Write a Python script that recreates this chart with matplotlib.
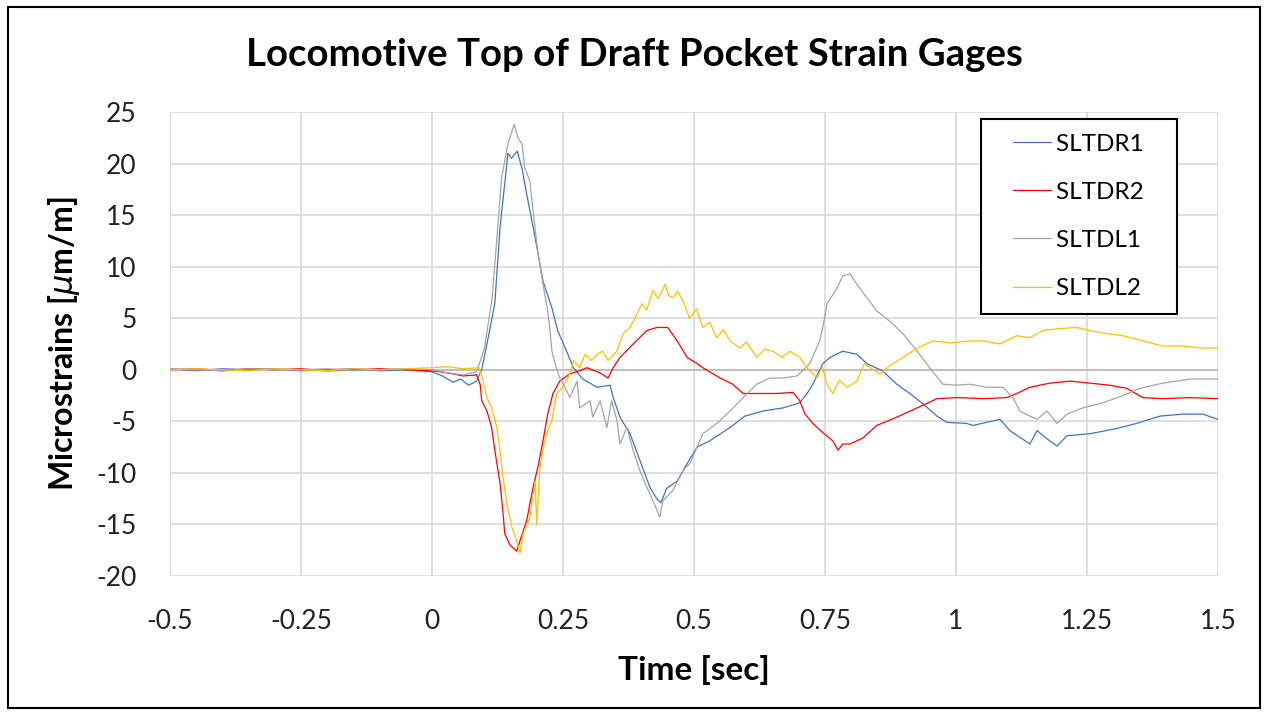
import numpy as np
import matplotlib
matplotlib.use('Agg')
import matplotlib.pyplot as plt
from matplotlib.patches import Rectangle
from matplotlib.legend_handler import HandlerLine2D
from matplotlib.lines import Line2D

# values (time in sec, microstrain)
PRE_T = [-0.5, -0.45, -0.4, -0.35, -0.3, -0.25, -0.2, -0.15, -0.1, -0.05, 0.0]

T_R1 = PRE_T + [0.02, 0.04, 0.055, 0.07, 0.085, 0.095, 0.105, 0.12, 0.13,
                0.141, 0.145, 0.152, 0.163, 0.172, 0.181, 0.197, 0.212,
                0.229, 0.24, 0.257, 0.27, 0.288, 0.315, 0.34, 0.346, 0.359,
                0.378, 0.397, 0.416, 0.429, 0.437, 0.448, 0.468, 0.487,
                0.506, 0.53, 0.569, 0.597, 0.632, 0.67, 0.702, 0.716, 0.727,
                0.746, 0.76, 0.784, 0.811, 0.83, 0.86, 0.887, 0.912, 0.937,
                0.964, 0.983, 1.02, 1.033, 1.084, 1.103, 1.141, 1.155, 1.174,
                1.193, 1.212, 1.256, 1.307, 1.345, 1.389, 1.433, 1.471, 1.5]
Y_R1 = [0.1, -0.1, 0.1, 0.0, 0.1, -0.1, 0.0, 0.1, -0.1, 0.0, -0.2] + \
       [-0.6, -1.2, -0.9, -1.5, -1.1, 0.0, 2.5, 6.4, 13.8, 19.0, 21.0, 20.5,
        21.2, 19.5, 17.0, 12.8, 8.6, 6.0, 3.8, 1.8, 0.2, -0.9, -1.7, -1.5,
        -2.7, -4.6, -6.2, -8.8, -11.4, -12.5, -12.9, -11.5, -10.8, -9.1,
        -7.5, -6.9, -5.6, -4.5, -4.0, -3.7, -3.2, -2.3, -1.4, 0.6, 1.2, 1.8,
        1.5, 0.6, -0.1, -1.4, -2.3, -3.3, -4.5, -5.1, -5.2, -5.4, -4.8, -5.9,
        -7.2, -5.9, -6.7, -7.4, -6.4, -6.2, -5.7, -5.2, -4.5, -4.3, -4.3,
        -4.8]

T_R2 = PRE_T + [0.03, 0.06, 0.085, 0.092, 0.095, 0.105, 0.114, 0.12, 0.13,
                0.136, 0.139, 0.149, 0.162, 0.168, 0.181, 0.193, 0.202,
                0.212, 0.221, 0.231, 0.244, 0.263, 0.282, 0.296, 0.321,
                0.336, 0.346, 0.359, 0.384, 0.41, 0.429, 0.45, 0.468, 0.487,
                0.506, 0.517, 0.55, 0.574, 0.594, 0.62, 0.658, 0.689, 0.702,
                0.712, 0.727, 0.746, 0.765, 0.775, 0.784, 0.798, 0.823,
                0.849, 0.887, 0.926, 0.964, 1.002, 1.052, 1.097, 1.116,
                1.141, 1.179, 1.218, 1.256, 1.294, 1.326, 1.357, 1.395,
                1.447, 1.5]
Y_R2 = [0.0, 0.1, -0.1, 0.1, 0.0, 0.1, -0.1, 0.0, 0.1, 0.0, -0.1] + \
       [-0.3, -0.6, -0.5, -1.4, -3.0, -4.0, -5.6, -7.8, -11.0, -14.0, -15.9,
        -17.0, -17.6, -16.6, -14.6, -11.4, -9.5, -6.9, -4.3, -2.3, -1.1,
        -0.4, -0.1, 0.2, -0.3, -0.8, 0.2, 1.2, 2.5, 3.8, 4.1, 4.1, 2.8, 1.2,
        0.6, 0.2, -0.8, -1.4, -2.3, -2.3, -2.3, -2.2, -3.0, -4.3, -5.2, -6.1,
        -6.9, -7.8, -7.2, -7.2, -6.6, -5.4, -4.6, -3.7, -2.8, -2.7, -2.8,
        -2.7, -2.3, -1.7, -1.3, -1.1, -1.3, -1.5, -1.8, -2.7, -2.8, -2.7,
        -2.8]

T_L1 = PRE_T + [0.03, 0.06, 0.085, 0.1, 0.115, 0.133, 0.145, 0.157, 0.164,
                0.172, 0.177, 0.187, 0.193, 0.202, 0.212, 0.221, 0.225,
                0.229, 0.235, 0.244, 0.257, 0.263, 0.277, 0.282, 0.302,
                0.307, 0.321, 0.334, 0.343, 0.353, 0.359, 0.372, 0.384,
                0.397, 0.41, 0.422, 0.435, 0.441, 0.46, 0.479, 0.492, 0.506,
                0.517, 0.544, 0.569, 0.594, 0.62, 0.645, 0.67, 0.697, 0.721,
                0.74, 0.746, 0.754, 0.773, 0.784, 0.798, 0.811, 0.83, 0.849,
                0.874, 0.899, 0.926, 0.95, 0.975, 1.002, 1.027, 1.059, 1.09,
                1.109, 1.122, 1.141, 1.155, 1.174, 1.193, 1.212, 1.242,
                1.281, 1.319, 1.351, 1.395, 1.447, 1.5]
Y_L1 = [0.1, 0.0, -0.1, 0.1, 0.0, 0.0, 0.1, -0.1, 0.0, 0.1, 0.0] + \
       [-0.3, -0.5, -0.2, 2.0, 7.0, 18.6, 21.9, 23.8, 22.5, 21.9, 19.6,
        18.3, 15.4, 11.5, 8.3, 5.7, 4.0, 1.8, 0.6, -0.8, -2.0, -2.7, -1.1,
        -3.7, -3.0, -4.6, -3.0, -5.6, -3.0, -4.9, -7.2, -5.6, -7.8, -9.8,
        -11.4, -12.7, -14.3, -12.7, -11.7, -9.8, -9.1, -7.5, -6.2, -5.2,
        -4.0, -2.7, -1.4, -0.8, -0.8, -0.6, 0.6, 2.8, 4.1, 6.4, 7.9, 9.1,
        9.3, 8.3, 7.0, 5.7, 4.7, 3.5, 1.8, 0.2, -1.4, -1.5, -1.4, -1.7,
        -1.7, -2.7, -4.0, -4.5, -4.8, -4.0, -5.2, -4.3, -3.7, -3.2, -2.5,
        -1.8, -1.3, -0.9, -0.9]

T_L2 = PRE_T + [0.03, 0.06, 0.09, 0.098, 0.105, 0.114, 0.124, 0.13, 0.136,
                0.143, 0.153, 0.162, 0.168, 0.174, 0.187, 0.197, 0.2, 0.206,
                0.216, 0.229, 0.238, 0.25, 0.263, 0.27, 0.282, 0.292, 0.305,
                0.315, 0.326, 0.336, 0.353, 0.365, 0.378, 0.391, 0.401,
                0.41, 0.422, 0.432, 0.445, 0.452, 0.46, 0.469, 0.479, 0.492,
                0.505, 0.517, 0.53, 0.544, 0.556, 0.569, 0.588, 0.6, 0.62,
                0.635, 0.651, 0.668, 0.683, 0.702, 0.716, 0.735, 0.745,
                0.754, 0.765, 0.778, 0.792, 0.811, 0.825, 0.836, 0.855,
                0.874, 0.899, 0.926, 0.956, 0.989, 1.027, 1.052, 1.084,
                1.116, 1.141, 1.166, 1.198, 1.231, 1.256, 1.288, 1.319,
                1.357, 1.395, 1.433, 1.471, 1.5]
Y_L2 = [0.0, 0.1, 0.0, -0.1, 0.1, 0.0, -0.1, 0.1, 0.0, 0.1, 0.2] + \
       [0.3, 0.1, 0.2, -1.1, -2.7, -3.7, -5.6, -7.8, -10.5, -13.0, -15.3,
        -16.6, -17.8, -15.9, -14.3, -10.8, -15.0, -9.5, -6.6, -4.9, -2.3,
        -1.7, -0.4, 0.9, 0.2, 1.5, 0.9, 1.5, 1.8, 0.9, 1.8, 3.5, 4.1, 5.4,
        6.4, 5.8, 7.7, 6.9, 8.3, 7.2, 7.0, 7.6, 6.7, 5.0, 5.9, 4.1, 4.6, 3.1,
        3.9, 2.8, 2.1, 2.7, 1.2, 2.0, 1.8, 1.2, 1.8, 1.2, 0.2, -0.8, 0.3,
        -1.4, -2.3, -1.0, -1.7, -1.1, 0.6, 0.2, -0.4, 0.4, 1.2, 2.1, 2.8,
        2.6, 2.8, 2.8, 2.5, 3.3, 3.1, 3.8, 4.0, 4.1, 3.8, 3.5, 3.3, 2.8,
        2.3, 2.3, 2.1, 2.1]

SERIES = ['SLTDR1', 'SLTDR2', 'SLTDL1', 'SLTDL2']
COLORS = ['#4472C4', '#FF0000', '#A5A5A5', '#FFC000']
X_TICKS = [-0.5, -0.25, 0, 0.25, 0.5, 0.75, 1, 1.25, 1.5]
X_TICK_LABELS = ['-0.5', '-0.25', '0', '0.25', '0.5', '0.75', '1', '1.25', '1.5']
Y_TICKS = list(range(-20, 30, 5))

plt.rcParams['font.family'] = ['Lato', 'DejaVu Sans']
plt.rcParams['axes.unicode_minus'] = False

fig = plt.figure(figsize=(12.68, 7.15), dpi=100)
ax = fig.add_axes([0.134, 0.1944, 0.8265, 0.6490])

data = [(T_R1, Y_R1), (T_R2, Y_R2), (T_L1, Y_L1), (T_L2, Y_L2)]
for (t, y), name, col in zip(data, SERIES, COLORS):
    ax.plot(t, y, color=col, lw=0.9, label=name)

ax.set_xlim(-0.5, 1.5)
ax.set_ylim(-20, 25)
ax.set_xticks(X_TICKS)
ax.set_xticklabels(X_TICK_LABELS)
ax.set_yticks(Y_TICKS)
ax.tick_params(length=0, labelsize=19, colors='#222222')
ax.tick_params(axis='x', pad=24)
ax.tick_params(axis='y', pad=24)
ax.grid(True, color='#D9D9D9', lw=1.2)
ax.axhline(0, color='#BFBFBF', lw=1.4, zorder=1)
ax.set_axisbelow(True)
for s in ax.spines.values():
    s.set_visible(False)

ax.set_xlabel('Time [sec]', fontsize=24, fontweight='bold', labelpad=15)
ax.set_ylabel(r'Microstrains [$\mu$m/m]', fontsize=23, fontweight='bold',
              labelpad=10)
fig.text(0.5, 0.923, 'Locomotive Top of Draft Pocket Strain Gages',
         fontsize=27.6, fontweight='bold', ha='center', va='center')

leg_fs = 17.5
handler = HandlerLine2D(xpad=0.75)
leg = ax.legend(loc='upper right', bbox_to_anchor=(0.961, 0.985),
                borderaxespad=0, prop={'size': leg_fs}, frameon=True,
                fancybox=False, labelspacing=1.12, handlelength=2.3,
                handletextpad=0.2, borderpad=0.6,
                handler_map={Line2D: handler})
for txt in leg.get_texts():
    txt.set_text(txt.get_text() + '   ')
leg.get_frame().set_edgecolor('black')
leg.get_frame().set_linewidth(1.5)
leg.get_frame().set_alpha(1)

# outer border round the chart
fig.patches.append(Rectangle((0.006, 0.01), 0.988, 0.98, transform=fig.transFigure,
                             fill=False, edgecolor='black', lw=1.5))

fig.savefig('out.png', dpi=100)
